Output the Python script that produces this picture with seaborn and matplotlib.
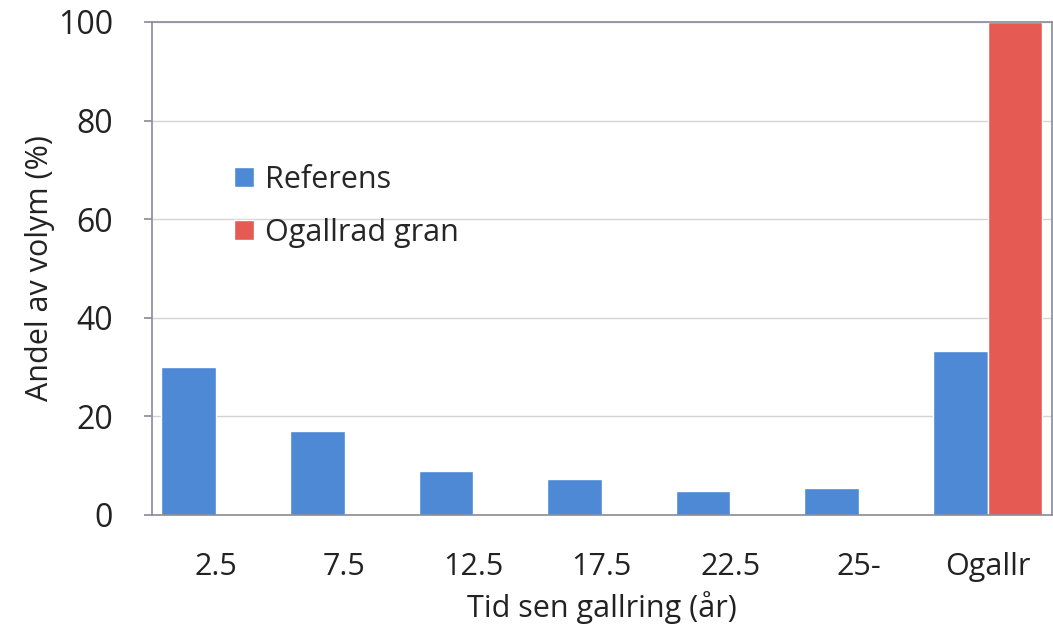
import pandas as pd
import seaborn as sns
import matplotlib.pyplot as plt

sns.set_style("white")
plt.rcParams['font.family'] = ['Open Sans', 'DejaVu Sans']

# data
categories = ['2.5', '7.5', '12.5', '17.5', '22.5', '25-', 'Ogallr']
referens = [30, 17, 9, 7.2, 4.9, 5.5, 33.2]
ogallrad = [0, 0, 0, 0, 0, 0, 100]
series_names = ['Referens', 'Ogallrad gran']

df = pd.DataFrame({
    'Tid': categories * 2,
    'Andel': referens + ogallrad,
    'Serie': [series_names[0]] * len(categories) + [series_names[1]] * len(categories),
})

fig, ax = plt.subplots(figsize=(10.53, 6.28), dpi=100)
fig.subplots_adjust(left=0.144, right=0.999, top=0.965, bottom=0.18)

sns.barplot(data=df, x='Tid', y='Andel', hue='Serie', order=categories,
            hue_order=series_names, palette=['#4d89d4', '#e55a52'],
            width=0.85, saturation=1, ax=ax)

ax.set_ylim(0, 100)
ax.set_xlim(-0.5, len(categories) - 0.5)
ax.set_yticks([0, 20, 40, 60, 80, 100])
ax.yaxis.grid(True, color='#d4d4d4', linewidth=1)
ax.set_axisbelow(True)

for s in ax.spines.values():
    s.set_color('#8a8a9a')
    s.set_linewidth(1.2)

ax.set_xticks(range(len(categories)))
ax.set_xticks([i - 0.5 for i in range(len(categories) + 1)], minor=True)
ax.tick_params(axis='x', which='major', length=0, pad=27, labelsize=22, colors='#222222')
ax.tick_params(axis='x', which='minor', length=9, width=1.2, color='#8a8a9a', direction='out')
ax.tick_params(axis='y', length=6, width=1.2, color='#8a8a9a', direction='out',
               pad=22, labelsize=23, labelcolor='#222222', left=True)

ax.set_xlabel('Tid sen gallring (år)', fontsize=22, color='#222222', labelpad=6)
ax.set_ylabel('Andel av volym (%)', fontsize=22, color='#222222', labelpad=2)

ax.legend(loc='upper left', bbox_to_anchor=(0.078, 0.735), frameon=False,
          fontsize=22, handlelength=0.65, handleheight=0.65, handletextpad=0.35,
          labelspacing=0.75, borderaxespad=0)

plt.savefig('out.png', dpi=100)
plt.close()
